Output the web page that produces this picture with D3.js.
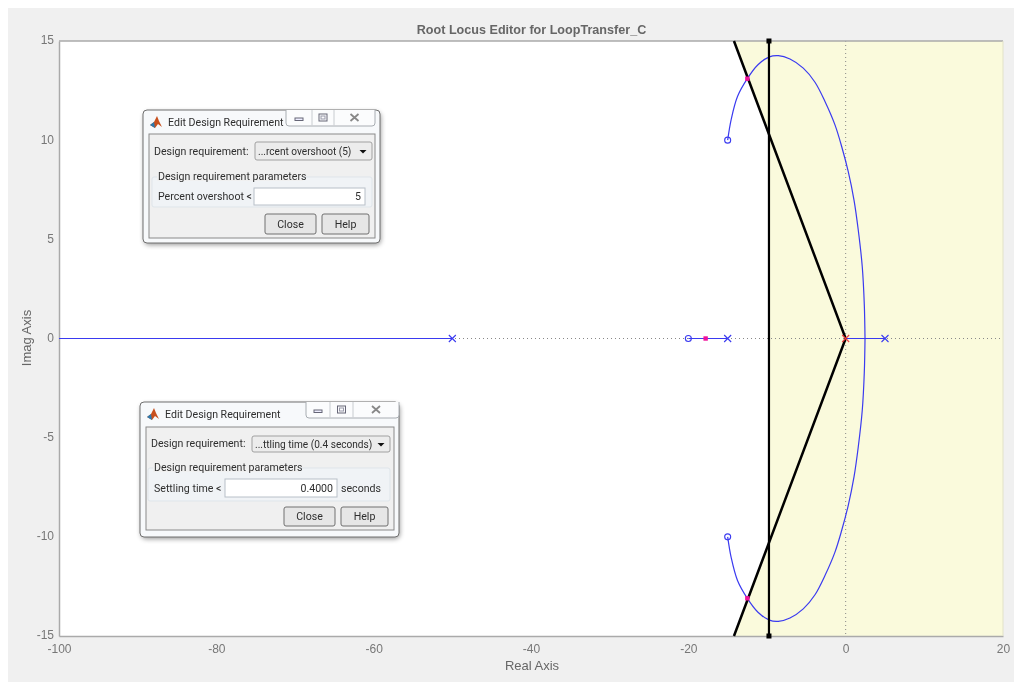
<!DOCTYPE html>
<html><head><meta charset="utf-8">
<style>html,body{margin:0;padding:0;background:#fff}svg{display:block;filter:blur(0.35px)}text{font-family:"Liberation Sans",Arial,sans-serif}.ui text{font-family:Roboto,sans-serif;font-size:10.6px;fill:#2e2e2e}.ui text.dd{font-size:10.1px}</style>
<script src="https://cdnjs.cloudflare.com/ajax/libs/d3/7.8.5/d3.min.js"></script></head>
<body><svg id="c" width="1021" height="684"></svg>
<script>
const title="Root Locus Editor for LoopTransfer_C", xLabel="Real Axis", yLabel="Imag Axis";
const xTicks=[-100,-80,-60,-40,-20,0,20], yTicks=[-15,-10,-5,0,5,10,15];
const upperLocus=[[-15,10],[-14.55,11.05],[-13.75,12.2],[-12.5,13.1],[-11.15,13.8],[-9.7,14.2],[-8.56,14.26],[-7.08,14.09],[-5.39,13.63],[-3.9,12.92],[-2.63,11.95],[-1.36,10.77],[-0.5,9.67],[0.33,8.41],[1.06,6.98],[1.6,5.47],[2.11,3.62],[2.37,1.69],[2.46,0]];
const lowerLocus=[[-15,-10],[-14.55,-11.05],[-13.75,-12.2],[-12.5,-13.1],[-11.15,-13.8],[-9.7,-14.2],[-8.56,-14.26],[-7.08,-14.09],[-5.39,-13.63],[-3.9,-12.92],[-2.63,-11.95],[-1.36,-10.77],[-0.5,-9.67],[0.33,-8.41],[1.06,-6.98],[1.6,-5.47],[2.11,-3.62],[2.37,-1.69],[2.46,0]];
const axisBranches=[[[-100,0],[-50,0]],[[-20,0],[-15,0]],[[0,0],[5,0]]];
const poles=[[-50,0],[-15,0],[5,0]], openPoleAtOrigin=[[0,0]];
const zeros=[[-20,0],[-15,10],[-15,-10]];
const closedLoop=[[-17.8,0],[-12.5,13.1],[-12.5,-13.1]];
const settlingX=-9.75, coneTop=[-14.2,15], coneBottom=[-14.2,-15];

const svg=d3.select("#c");
const x=d3.scaleLinear().domain([-100,20]).range([59,1003]);
const y=d3.scaleLinear().domain([-15,15]).range([636,41]);
svg.append("rect").attr("x",8).attr("y",8).attr("width",1006).attr("height",674).attr("fill","#f0f0f0");
svg.append("rect").attr("x",x(-100)).attr("y",y(15)).attr("width",x(20)-x(-100)).attr("height",y(-15)-y(15)).attr("fill","#fff");
const kneeY=Math.abs(settlingX)*coneTop[1]/Math.abs(coneTop[0]);
const region=[coneTop,[20,15],[20,-15],coneBottom,[settlingX,-kneeY],[settlingX,kneeY]];
const line=d3.line().x(d=>x(d[0])).y(d=>y(d[1]));
svg.append("path").attr("d",line(region)+"Z").attr("fill","#fafadc");
svg.append("line").attr("x1",x(-100)).attr("x2",x(20)).attr("y1",y(0)).attr("y2",y(0)).attr("stroke","#888").attr("stroke-dasharray","1 3");
svg.append("line").attr("x1",x(0)).attr("x2",x(0)).attr("y1",y(15)).attr("y2",y(-15)).attr("stroke","#888").attr("stroke-dasharray","1 3");
const gx=svg.append("g").attr("transform",`translate(0,${y(-15)})`).call(d3.axisBottom(x).tickValues(xTicks).tickSize(0).tickPadding(8).tickFormat(d=>String(d)));
const gy=svg.append("g").attr("transform",`translate(${x(-100)},-1)`).call(d3.axisLeft(y).tickValues(yTicks).tickSize(0).tickPadding(5).tickFormat(d=>String(d)));
[gx,gy].forEach(g=>{g.selectAll("text").attr("font-size",12).attr("fill","#777").style("font-family",'"Liberation Sans",sans-serif');g.select(".domain").attr("stroke","#aaa").attr("stroke-width",1.5);});
gy.select(".domain").attr("transform","translate(0,1)");
svg.append("line").attr("x1",x(-100)).attr("x2",x(20)).attr("y1",y(15)).attr("y2",y(15)).attr("stroke","#aaa").attr("stroke-width",1.5);
svg.append("line").attr("x1",x(20)).attr("x2",x(20)).attr("y1",y(15)).attr("y2",y(-15)).attr("stroke","#e2e2c8").attr("stroke-width",1);
svg.append("text").attr("x",531.5).attr("y",34).attr("text-anchor","middle").attr("font-size",12.6).attr("font-weight","bold").attr("fill","#666").text(title);
svg.append("text").attr("x",532).attr("y",670).attr("text-anchor","middle").attr("font-size",13).attr("fill","#666").text(xLabel);
svg.append("text").attr("transform","translate(31,338) rotate(-90)").attr("text-anchor","middle").attr("font-size",13).attr("fill","#666").text(yLabel);
axisBranches.forEach(b=>svg.append("path").attr("d",line(b)).attr("fill","none").attr("stroke","#3a3af0").attr("stroke-width",1.2));
const curve=d3.line().x(d=>x(d[0])).y(d=>y(d[1])).curve(d3.curveCatmullRom);
[upperLocus,lowerLocus].forEach(l=>svg.append("path").attr("d",curve(l)).attr("fill","none").attr("stroke","#3a3af0").attr("stroke-width",1.2));
svg.append("path").attr("d",line([coneTop,[0,0],coneBottom])).attr("fill","none").attr("stroke","#000").attr("stroke-width",2.5);
svg.append("line").attr("x1",x(settlingX)).attr("x2",x(settlingX)).attr("y1",y(15)).attr("y2",y(-15)).attr("stroke","#000").attr("stroke-width",2.2);
[15,-15].forEach(v=>svg.append("rect").attr("x",x(settlingX)-2.5).attr("y",y(v)-2.5).attr("width",5).attr("height",5).attr("fill","#000"));
const cross=(d,c)=>{const a=3.5,X=x(d[0]),Y=y(d[1]);svg.append("path").attr("d",`M${X-a},${Y-a}L${X+a},${Y+a}M${X-a},${Y+a}L${X+a},${Y-a}`).attr("stroke",c).attr("stroke-width",1.1).attr("fill","none");};
poles.forEach(d=>cross(d,"#3a3af0"));
openPoleAtOrigin.forEach(d=>cross(d,"#f04040"));
svg.selectAll(".z").data(zeros).join("circle").attr("cx",d=>x(d[0])).attr("cy",d=>y(d[1])).attr("r",3).attr("fill","none").attr("stroke","#3a3af0").attr("stroke-width",1.1);
svg.selectAll(".cl").data(closedLoop).join("rect").attr("x",d=>x(d[0])-2.2).attr("y",d=>y(d[1])-2.2).attr("width",4.4).attr("height",4.4).attr("fill","#f0109a");

const dialogTitle="Edit Design Requirement", reqLabel="Design requirement:", groupLabel="Design requirement parameters";
function dialog(o){
 const g=svg.append("g").attr("class","ui");
 g.append("rect").attr("x",o.x0+1).attr("y",o.y0+2).attr("width",o.x1-o.x0).attr("height",o.y1-o.y0).attr("rx",5).attr("fill","#000").attr("opacity",.4).style("filter","blur(2.5px)");
 g.append("rect").attr("x",o.x0).attr("y",o.y0).attr("width",o.x1-o.x0).attr("height",o.y1-o.y0).attr("rx",4).attr("fill","#f7f9fb").attr("stroke","#707070");
 const ix=o.x0+7,iy=o.y0+6;
 g.append("path").attr("d",`M${ix},${iy+9}L${ix+4},${iy+6}L${ix+7},${iy}L${ix+9},${iy+5}L${ix+12},${iy+11}L${ix+8},${iy+8}L${ix+5},${iy+12}Z`).attr("fill","#c8501e");
 g.append("path").attr("d",`M${ix},${iy+9}L${ix+4},${iy+6}L${ix+5},${iy+12}Z`).attr("fill","#2a7ab0");
 g.append("text").attr("x",o.x0+25).attr("y",o.y0+16).text(dialogTitle);
 g.append("path").attr("d",`M${o.wb[0]},${o.y0}V${o.y0+13}a3,3 0 0 0 3,3H${o.wb[3]-3}a3,3 0 0 0 3,-3V${o.y0}`).attr("fill","#fbfcfd").attr("stroke","#a8adb2");
 [o.wb[1],o.wb[2]].forEach(v=>g.append("line").attr("x1",v).attr("x2",v).attr("y1",o.y0).attr("y2",o.y0+15.5).attr("stroke","#c8ccd0"));
 const cy=o.y0+8;
 g.append("rect").attr("x",(o.wb[0]+o.wb[1])/2-4).attr("y",cy).attr("width",8).attr("height",2.5).attr("fill","#eef").attr("stroke","#667");
 g.append("rect").attr("x",(o.wb[1]+o.wb[2])/2-4).attr("y",cy-4).attr("width",8).attr("height",7).attr("fill","none").attr("stroke","#667");
 g.append("rect").attr("x",(o.wb[1]+o.wb[2])/2-2).attr("y",cy-2).attr("width",4).attr("height",3).attr("fill","none").attr("stroke","#99a");
 const mx=(o.wb[2]+o.wb[3])/2;
 g.append("path").attr("d",`M${mx-4},${cy-4}L${mx+4},${cy+3}M${mx-4},${cy+3}L${mx+4},${cy-4}`).attr("stroke","#888").attr("stroke-width",1.8);
 const p=o.panel; g.append("rect").attr("x",p[0]).attr("y",p[1]).attr("width",p[2]-p[0]).attr("height",p[3]-p[1]).attr("fill","#f0f0f0").attr("stroke","#8a8a8a");
 g.append("text").attr("x",p[0]+5).attr("y",o.reqY+3.5).text(reqLabel);
 const d=o.drop; g.append("rect").attr("x",d[0]).attr("y",d[1]).attr("width",d[2]-d[0]).attr("height",d[3]-d[1]).attr("rx",2).attr("fill","#ececec").attr("stroke","#a0a0a0");
 g.append("text").attr("class","dd").attr("x",d[0]+3).attr("y",(d[1]+d[3])/2+3.5).text(o.dropText);
 const ax=d[2]-9,ay=(d[1]+d[3])/2;
 g.append("path").attr("d",`M${ax-3.5},${ay-1}H${ax+3.5}L${ax},${ay+2.5}Z`).attr("fill","#111");
 const b=o.group; g.append("rect").attr("x",b[0]).attr("y",b[1]).attr("width",b[2]-b[0]).attr("height",b[3]-b[1]).attr("rx",2).attr("fill","#f0f3f6").attr("stroke","#dfe5ea");
 g.append("rect").attr("x",b[0]+5).attr("y",b[1]-4).attr("width",146).attr("height",8).attr("fill","#f0f0f0");
 g.append("text").attr("x",b[0]+6).attr("y",b[1]+3).text(groupLabel);
 g.append("text").attr("x",b[0]+6).attr("y",(o.input[1]+o.input[3])/2+3.5).text(o.fieldLabel);
 const i=o.input; g.append("rect").attr("x",i[0]).attr("y",i[1]).attr("width",i[2]-i[0]).attr("height",i[3]-i[1]).attr("fill","#fff").attr("stroke","#b8c0c8");
 g.append("text").attr("x",i[2]-4).attr("y",(i[1]+i[3])/2+3.5).attr("text-anchor","end").text(o.value);
 if(o.unit) g.append("text").attr("x",i[2]+4).attr("y",(i[1]+i[3])/2+3.5).text(o.unit);
 [["Close",o.close],["Help",o.help]].forEach(([t,r])=>{
  g.append("rect").attr("x",r[0]).attr("y",r[1]).attr("width",r[2]-r[0]).attr("height",r[3]-r[1]).attr("rx",2).attr("fill","#e6e6e6").attr("stroke","#707070");
  g.append("text").attr("x",(r[0]+r[2])/2).attr("y",(r[1]+r[3])/2+3.5).attr("text-anchor","middle").text(t);
 });
}
dialog({x0:143,y0:110,x1:380,y1:243,wb:[286,312,334,375],panel:[149,134,375,238],reqY:151,drop:[255,142,372,160],dropText:"...rcent overshoot (5)",group:[152,177,372,207],fieldLabel:"Percent overshoot <",input:[254,188,365,205],value:"5",close:[265,214,316,234],help:[322,214,369,234]});
dialog({x0:140,y0:402,x1:399,y1:537,wb:[306,330,353,399],panel:[146,427,394,530],reqY:443,drop:[252,436,390,452],dropText:"...ttling time (0.4 seconds)",group:[148,468,390,501],fieldLabel:"Settling time <",input:[225,479,337,497],value:"0.4000",unit:"seconds",close:[284,507,335,526],help:[341,507,388,526]});
</script></body></html>
